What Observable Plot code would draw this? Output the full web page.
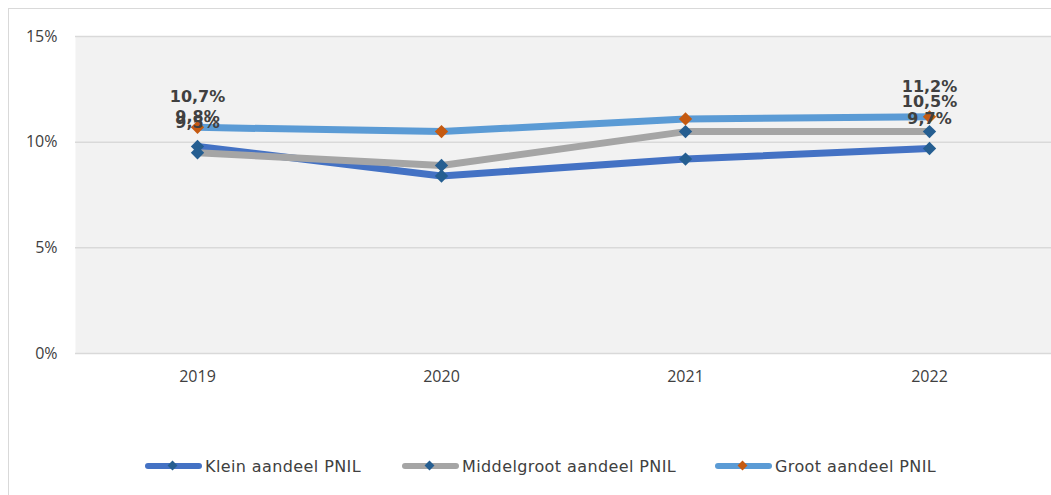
<!DOCTYPE html>
<html><head><meta charset="utf-8">
<script src="https://cdn.jsdelivr.net/npm/d3@7"></script>
<script src="https://cdn.jsdelivr.net/npm/@observablehq/plot@0.6"></script>
<style>
body{margin:0;background:#fff;font-family:"DejaVu Sans",sans-serif;}
#wrap{position:relative;width:1051px;height:495px;overflow:hidden;}
#border{position:absolute;left:8px;top:8px;width:1100px;height:600px;border-left:1px solid #D9D9D9;border-top:1px solid #D9D9D9;}
#chart{position:absolute;left:0;top:0;}
#chart g[aria-label="x-axis tick label"] text, #chart g[aria-label="y-axis tick label"] text{font-size:16px;font-family:"Open Sans",sans-serif;fill:#404040;}
#legend{position:absolute;left:0;top:454px;width:1051px;height:24px;}
.item{position:absolute;top:0;display:flex;align-items:center;font-size:16px;letter-spacing:0.4px;color:#404040;font-family:"DejaVu Sans",sans-serif;}
.sw{position:relative;width:57px;height:24px;margin-right:3px;}
.sw .ln{position:absolute;left:0;top:9px;width:57px;height:6px;border-radius:3px;}
.sw .dm{position:absolute;left:24px;top:8px;width:7px;height:7px;transform:rotate(45deg);}
</style></head>
<body>
<div id="wrap"><div id="border"></div><div id="chart"></div><div id="legend"></div></div>
<script>
const years = ["2019","2020","2021","2022"];
const series = ["Klein aandeel PNIL","Middelgroot aandeel PNIL","Groot aandeel PNIL"];
const klein = [9.8, 8.4, 9.2, 9.7];
const middelgroot = [9.5, 8.9, 10.5, 10.5];
const groot = [10.7, 10.5, 11.1, 11.2];
const yTicks = [0, 5, 10, 15];
const lineColors = ["#4472C4", "#A5A5A5", "#5B9BD5"];
const markerColors = ["#255E91", "#255E91", "#C55A11"];
const labelYears = ["2019", "2022"];

const values = [klein, middelgroot, groot];
const data = [];
series.forEach((s, i) => years.forEach((y, j) => data.push({series: s, year: y, value: values[i][j], idx: i})));
const labels = data.filter(d => labelYears.includes(d.year));
const fmt = v => v.toFixed(1).replace(".", ",") + "%";

const chart = Plot.plot({
  width: 1051, height: 400,
  marginTop: 36, marginBottom: 47, marginLeft: 75, marginRight: 0,
  style: {background: "transparent", fontFamily: "'Open Sans', sans-serif", fontSize: "16px", color: "#404040", overflow: "visible"},
  x: {type: "point", domain: years, padding: 0.5, label: null},
  y: {domain: [0, 15], label: null},
  marks: [
    Plot.frame({fill: "#F2F2F2", stroke: null}),
    Plot.ruleY(yTicks, {stroke: "#D9D9D9", strokeWidth: 1.5}),
    Plot.axisX(years, {tickSize: 0, tickPadding: 17}),
    Plot.axisY(yTicks, {tickSize: 0, tickPadding: 18, tickFormat: d => d + "%"}),
    Plot.line(data, {x: "year", y: "value", z: "series", stroke: d => lineColors[d.idx], strokeWidth: 7, curve: "linear"}),
    Plot.dot(data, {x: "year", y: "value", symbol: "diamond2", r: 6, fill: d => markerColors[d.idx], stroke: "none"}),
    Plot.text(labels, {x: "year", y: "value", text: d => fmt(d.value), dy: -30, fill: "#404040", fontWeight: "bold", fontSize: 16, fontFamily: "DejaVu Sans"})
  ]
});
document.getElementById("chart").appendChild(chart);

const legendPos = [145, 402, 715];
const leg = document.getElementById("legend");
series.forEach((s, i) => {
  const it = document.createElement("div");
  it.className = "item";
  it.style.left = legendPos[i] + "px";
  it.innerHTML = `<div class="sw"><div class="ln" style="background:${lineColors[i]}"></div><div class="dm" style="background:${markerColors[i]}"></div></div><span>${s}</span>`;
  leg.appendChild(it);
});
</script>
</body></html>
